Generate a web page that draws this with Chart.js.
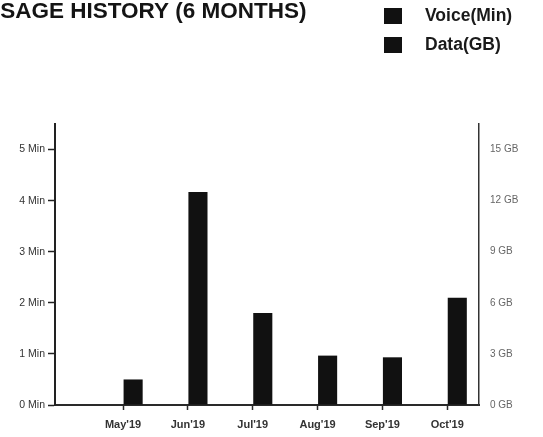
<!DOCTYPE html>
<html>
<head>
<meta charset="utf-8">
<script src="https://cdn.jsdelivr.net/npm/chart.js@4.4.1/dist/chart.umd.min.js"></script>
<style>
  html, body { margin: 0; padding: 0; background: #ffffff; }
  #wrap { position: relative; width: 543px; height: 437px; }
</style>
</head>
<body>
<div id="wrap"><canvas id="myChart_usage"></canvas></div>
<script>
  "use strict";

  // Usage history data
  const months = ["May'19", "Jun'19", "Jul'19", "Aug'19", "Sep'19", "Oct'19"];
  const voiceMin = [0, 0, 0, 0, 0, 0];
  const dataGb = [1.5, 12.5, 5.4, 2.9, 2.8, 6.3];
  const voiceTicks = [0, 1, 2, 3, 4, 5];
  const dataTicks = [0, 3, 6, 9, 12, 15];
  const chartTitle = 'USAGE HISTORY (6 MONTHS)';

  function toPoints(values) {
    return values.map((v, i) => ({ x: i, y: v }));
  }

  // title + stacked legend at the top, drawn on the canvas
  const headerPlugin = {
    id: 'header',
    afterDraw: function (chart) {
      const ctx = chart.ctx;
      ctx.save();
      ctx.fillStyle = '#141414';
      ctx.textBaseline = 'alphabetic';
      ctx.textAlign = 'left';
      ctx.font = 'bold 22.5px "Liberation Sans", Arial, sans-serif';
      ctx.fillText(chartTitle, -16, 18);

      ctx.font = 'bold 17.5px "Liberation Sans", Arial, sans-serif';
      ctx.textBaseline = 'middle';
      chart.data.datasets.forEach(function (ds, i) {
        const y = 16 + i * 29;
        ctx.fillStyle = ds.backgroundColor;
        ctx.fillRect(384, y - 8, 18, 16);
        ctx.fillStyle = '#1a1a1a';
        ctx.fillText(ds.label, 425, y);
      });
      ctx.restore();
    }
  };

  const data_usage = {
    datasets: [
      {
        label: 'Voice(Min)',
        data: toPoints(voiceMin),
        yAxisID: 'y',
        backgroundColor: '#111111',
        borderWidth: 0,
        barPercentage: 0.95,
        categoryPercentage: 0.62
      },
      {
        label: 'Data(GB)',
        data: toPoints(dataGb),
        yAxisID: 'y1',
        backgroundColor: '#111111',
        borderWidth: 0,
        barPercentage: 0.95,
        categoryPercentage: 0.62
      }
    ]
  };

  const config_usage = {
    type: 'bar',
    data: data_usage,
    plugins: [headerPlugin],
    options: {
      responsive: false,
      animation: false,
      layout: {
        padding: { top: 124, left: 0, right: 0, bottom: 0 }
      },
      plugins: {
        legend: { display: false },
        title: { display: false },
        tooltip: { enabled: false }
      },
      scales: {
        x: {
          type: 'linear',
          offset: false,
          min: -1.05,
          max: 5.49,
          afterBuildTicks: function (scale) {
            scale.ticks = months.map((m, i) => ({ value: i }));
          },
          afterFit: function (scale) {
            scale.height = 32;
          },
          border: { display: true, color: '#2a2a2a', width: 2 },
          grid: { offset: false, drawOnChartArea: false, tickLength: 5, color: '#2a2a2a', tickWidth: 1.5 },
          ticks: {
            padding: 8,
            maxRotation: 0,
            autoSkip: false,
            color: '#333333',
            font: { family: '"Liberation Sans", Arial, sans-serif', size: 11, weight: 'bold' },
            callback: function (value) {
              return months[value];
            }
          }
        },
        y: {
          position: 'left',
          min: 0,
          max: 5.5,
          afterBuildTicks: function (scale) {
            scale.ticks = voiceTicks.map(v => ({ value: v }));
          },
          afterFit: function (scale) {
            scale.width = 55;
          },
          border: { display: true, color: '#222222', width: 2 },
          grid: { drawOnChartArea: false, tickLength: 7, color: '#222222', tickWidth: 1.5 },
          ticks: {
            padding: 3,
            color: '#333333',
            font: { family: '"Liberation Sans", Arial, sans-serif', size: 10.5 },
            callback: function (value) {
              return value + ' Min';
            }
          }
        },
        y1: {
          position: 'right',
          min: 0,
          max: 16.5,
          afterBuildTicks: function (scale) {
            scale.ticks = dataTicks.map(v => ({ value: v }));
          },
          afterFit: function (scale) {
            scale.width = 64;
          },
          border: { display: true, color: '#333333', width: 1.5 },
          grid: { drawOnChartArea: false, drawTicks: false },
          ticks: {
            padding: 11,
            color: '#666666',
            font: { family: '"Liberation Sans", Arial, sans-serif', size: 10 },
            callback: function (value) {
              return value + ' GB';
            }
          }
        }
      }
    }
  };

  const ctx_usage = document.getElementById('myChart_usage');
  ctx_usage.width = 543;
  ctx_usage.height = 437;
  const myChart_usage = new Chart(ctx_usage, config_usage);
</script>
</body>
</html>
